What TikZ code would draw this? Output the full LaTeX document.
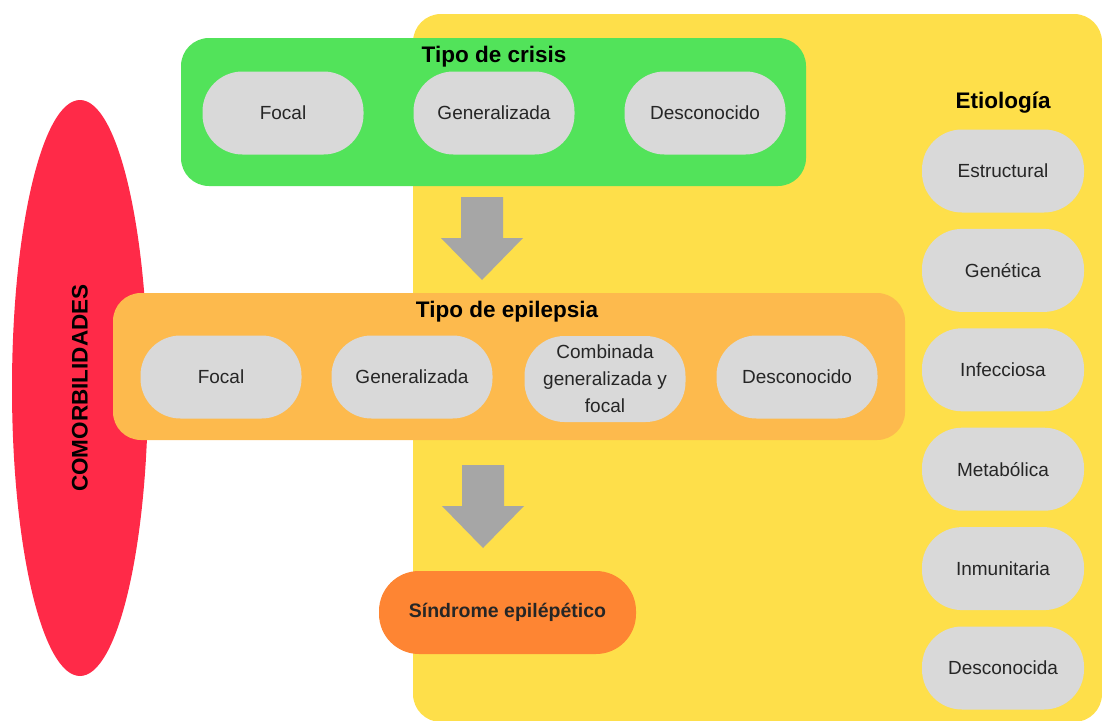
\documentclass[tikz,border=0pt]{standalone}
\usepackage{fontspec}
\setmainfont{Liberation Sans}
\usetikzlibrary{shapes.geometric}
\definecolor{etioyellow}{HTML}{FEDF4A}
\definecolor{crisisgreen}{HTML}{52E35A}
\definecolor{epilorange}{HTML}{FDBA4D}
\definecolor{comorred}{HTML}{FF2A48}
\definecolor{sindorange}{HTML}{FE8533}
\definecolor{pillgrey}{HTML}{D9D9D9}
\definecolor{arrowgrey}{HTML}{A6A6A6}
\tikzset{
  pill/.style={fill=pillgrey, rounded corners=40pt, minimum width=161pt, minimum height=83pt,
    inner sep=0pt, align=center, text=black!85, font=\fontsize{19}{27}\selectfont},
  boxtitle/.style={font=\fontsize{22.5}{26}\selectfont\bfseries, inner sep=0pt},
  panel/.style={rounded corners=28pt, inner sep=0pt},
  downarrow/.pic={\fill[arrowgrey] (-21,0) -- (21,0) -- (21,41) -- (41,41) -- (0,83) -- (-41,41) -- (-21,41) -- cycle;}
}
\begin{document}
\begin{tikzpicture}[x=1pt, y=-1pt]
  \useasboundingbox (0,0) rectangle (1102,720);
  % Etiologia (fondo amarillo)
  \node[panel, fill=etioyellow, minimum width=689pt, minimum height=708pt] (etio) at (757.5,368) {};
  % Comorbilidades
  \node[ellipse, fill=comorred, minimum width=136pt, minimum height=576pt, inner sep=0pt] (comor) at (80,388) {};
  \node[rotate=90, font=\fontsize{22.5}{26}\selectfont\bfseries] (comortext) at (comor) {COMORBILIDADES};
  % Tipo de crisis
  \node[panel, fill=crisisgreen, minimum width=625pt, minimum height=148pt] (crisis) at (493.5,112) {};
  \node[boxtitle] (crisistitle) at (494,57) {Tipo de crisis};
  \node[pill] (cfocal) at (283,113) {Focal};
  \node[pill] (cgen) at (494,113) {Generalizada};
  \node[pill] (cdesc) at (705,113) {Desconocido};
  % Flechas
  \pic at (482,197) {downarrow};
  \pic at (483,465) {downarrow};
  % Tipo de epilepsia
  \node[panel, fill=epilorange, minimum width=792pt, minimum height=147pt] (epil) at (509,366.5) {};
  \node[boxtitle] (epiltitle) at (507,312) {Tipo de epilepsia};
  \node[pill] (efocal) at (221,377) {Focal};
  \node[pill] (egen) at (412,377) {Generalizada};
  \node[pill, minimum height=86pt] (ecomb) at (605,379) {Combinada\\generalizada y\\focal};
  \node[pill] (edesc) at (797,377) {Desconocido};
  % Sindrome
  \node[pill, fill=sindorange, minimum width=257pt, font=\fontsize{19.5}{22}\selectfont\bfseries] (sind) at (507.5,612.5) {Síndrome epilépético};
  % Etiologia
  \node[boxtitle] (etiotitle) at (1003,103) {Etiología};
  \foreach \t [count=\i] in {Estructural,Genética,Infecciosa,Metabólica,Inmunitaria,Desconocida}
    \node[pill, minimum width=162pt] (etio\i) at (1003,{171+99.4*(\i-1)}) {\t};
\end{tikzpicture}
\end{document}
